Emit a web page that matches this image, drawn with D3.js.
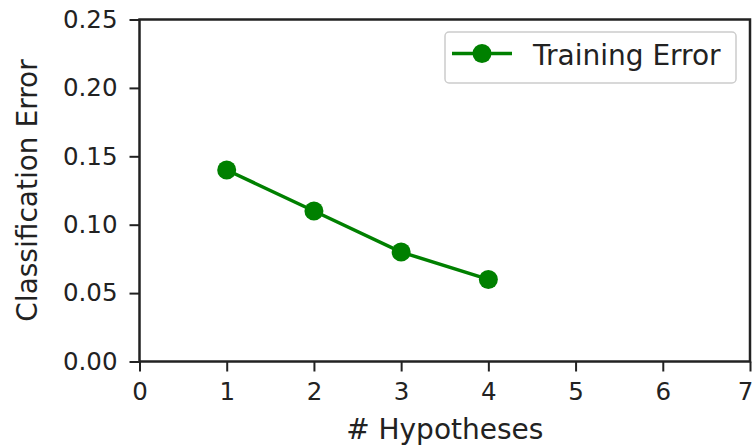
<!DOCTYPE html>
<html>
<head>
<meta charset="utf-8">
<script src="https://cdn.jsdelivr.net/npm/d3@7"></script>
<style>
  html, body { margin: 0; padding: 0; background: #fff; }
  svg { display: block; font-family: "DejaVu Sans", sans-serif; }
</style>
</head>
<body>
<svg id="chart" width="754" height="448"></svg>
<script>
// Training error per number of hypotheses
const hypotheses = [1, 2, 3, 4];
const trainingError = [0.14, 0.11, 0.08, 0.06];
const xTicks = [0, 1, 2, 3, 4, 5, 6, 7];
const yTicks = [0.00, 0.05, 0.10, 0.15, 0.20, 0.25];
const seriesName = "Training Error";

const svg = d3.select("#chart");
const margin = { left: 139.5, right: 4, top: 19.5, bottom: 86.5 };
const W = 754, H = 448;
const color = "#008000";
const ink = "#222";

const x = d3.scaleLinear().domain([0, 7]).range([margin.left, W - margin.right]);
const y = d3.scaleLinear().domain([0, 0.25]).range([H - margin.bottom, margin.top]);

const tickFont = 24.5;
const labelFont = 28;

// axes
const xAxis = svg.append("g")
  .attr("transform", `translate(0,${y(0)})`)
  .call(d3.axisBottom(x).tickValues(xTicks).tickFormat(d3.format("d")).tickSize(10).tickPadding(11));
const yAxis = svg.append("g")
  .attr("transform", `translate(${x(0)},0)`)
  .call(d3.axisLeft(y).tickValues(yTicks).tickFormat(d3.format(".2f")).tickSize(10).tickPadding(12));

[xAxis, yAxis].forEach(g => {
  g.select(".domain").remove();
  g.selectAll(".tick line").attr("stroke", ink).attr("stroke-width", 2);
  g.selectAll(".tick text").attr("fill", ink).style("font-size", tickFont + "px")
    .style("font-family", "DejaVu Sans");
});
// keep the last x tick label inside the canvas edge
xAxis.selectAll(".tick text").filter(d => d === 7).attr("text-anchor", "end").attr("dx", "0.12em");

// frame
svg.append("rect")
  .attr("x", x(0)).attr("y", y(0.25))
  .attr("width", x(7) - x(0)).attr("height", y(0) - y(0.25))
  .attr("fill", "none").attr("stroke", ink).attr("stroke-width", 2.5);

// line + markers
const line = d3.line().x((d, i) => x(hypotheses[i])).y(d => y(d));
svg.append("path")
  .datum(trainingError)
  .attr("d", line)
  .attr("fill", "none").attr("stroke", color).attr("stroke-width", 3.5);
svg.selectAll("circle.pt")
  .data(trainingError)
  .enter().append("circle")
  .attr("class", "pt")
  .attr("cx", (d, i) => x(hypotheses[i]))
  .attr("cy", d => y(d))
  .attr("r", 9.5)
  .attr("fill", color);

// axis labels
svg.append("text")
  .attr("x", (x(0) + x(7)) / 2).attr("y", 439)
  .attr("text-anchor", "middle").attr("fill", ink)
  .style("font-size", labelFont + "px")
  .text("# Hypotheses");
svg.append("text")
  .attr("transform", `translate(37,${(y(0) + y(0.25)) / 2}) rotate(-90)`)
  .attr("text-anchor", "middle").attr("fill", ink)
  .style("font-size", labelFont + "px")
  .text("Classification Error");

// legend
const lg = svg.append("g");
lg.append("rect")
  .attr("x", 445).attr("y", 32).attr("width", 291).attr("height", 51)
  .attr("rx", 4).attr("fill", "#fff").attr("fill-opacity", 0.8)
  .attr("stroke", "#ccc").attr("stroke-width", 1.5);
lg.append("line")
  .attr("x1", 452).attr("x2", 512).attr("y1", 53.5).attr("y2", 53.5)
  .attr("stroke", color).attr("stroke-width", 3.5);
lg.append("circle").attr("cx", 482).attr("cy", 53.5).attr("r", 9.5).attr("fill", color);
lg.append("text")
  .attr("x", 533).attr("y", 65)
  .attr("fill", ink).style("font-size", labelFont + "px")
  .text(seriesName);
</script>
</body>
</html>
